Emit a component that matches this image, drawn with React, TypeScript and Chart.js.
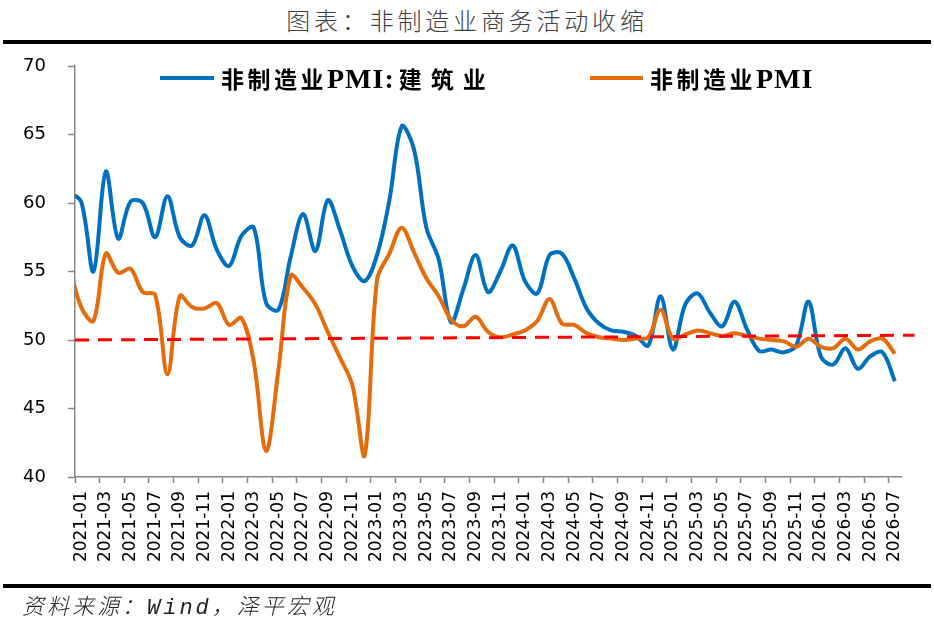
import { useEffect, useRef } from 'react';
import { Chart, registerables } from 'chart.js';

Chart.register(...registerables);

// first month (2020-12) sits left of the axis start and is only seen as the clipped line end
const MONTHS = [
  '2020-12',
  '2021-01', '2021-02', '2021-03', '2021-04', '2021-05', '2021-06', '2021-07', '2021-08', '2021-09', '2021-10', '2021-11', '2021-12',
  '2022-01', '2022-02', '2022-03', '2022-04', '2022-05', '2022-06', '2022-07', '2022-08', '2022-09', '2022-10', '2022-11', '2022-12',
  '2023-01', '2023-02', '2023-03', '2023-04', '2023-05', '2023-06', '2023-07', '2023-08', '2023-09', '2023-10', '2023-11', '2023-12',
  '2024-01', '2024-02', '2024-03', '2024-04', '2024-05', '2024-06', '2024-07', '2024-08', '2024-09', '2024-10', '2024-11', '2024-12',
  '2025-01', '2025-02', '2025-03', '2025-04', '2025-05', '2025-06', '2025-07', '2025-08', '2025-09', '2025-10', '2025-11', '2025-12',
  '2026-01', '2026-02', '2026-03', '2026-04', '2026-05', '2026-06', '2026-07',
];

// 非制造业PMI:建筑业
const CONSTRUCTION = [
  60.8,
  60.1, 55.0, 62.3, 57.4, 60.1, 60.0, 57.5, 60.5, 57.5, 56.9, 59.1, 56.6,
  55.4, 57.6, 58.2, 52.7, 52.2, 56.1, 59.2, 56.5, 60.2, 58.0, 55.4, 54.3,
  56.2, 60.2, 65.6, 63.9, 58.2, 55.9, 51.3, 53.7, 56.2, 53.5, 55.0, 56.9,
  54.3, 53.4, 56.2, 56.3, 54.5, 52.3, 51.2, 50.7, 50.6, 50.3, 49.6, 53.2,
  49.3, 52.6, 53.4, 52.0, 51.0, 52.8, 50.8, 49.2, 49.3, 49.1, 49.6, 52.8,
  48.8, 48.2, 49.4, 47.9, 48.8, 49.1, 47.0,
];

// 非制造业PMI
const NON_MFG = [
  55.6,
  52.4, 51.4, 56.3, 54.9, 55.2, 53.5, 53.3, 47.5, 53.2, 52.4, 52.3, 52.7,
  51.1, 51.6, 48.4, 41.9, 47.8, 54.7, 53.8, 52.6, 50.6, 48.7, 46.7, 41.6,
  54.4, 56.3, 58.2, 56.4, 54.5, 53.2, 51.5, 51.0, 51.7, 50.6, 50.2, 50.4,
  50.7, 51.4, 53.0, 51.2, 51.1, 50.5, 50.2, 50.1, 50.0, 50.1, 50.2, 52.2,
  50.1, 50.4, 50.7, 50.5, 50.3, 50.5, 50.3, 50.1, 50.0, 49.9, 49.5, 50.1,
  49.5, 49.4, 50.1, 49.3, 49.9, 50.1, 49.0,
];

// dashed reference line, in category widths from the left edge of the axis
const TREND_X = [0, 68.1];
const TREND_Y = [50.0, 50.35];

const Y_TICKS = [40, 45, 50, 55, 60, 65, 70];

const BLUE = '#0070C0';
const ORANGE = '#E46C0A';
const AXIS = '#868686';

const App = () => {
  const chartRef = useRef<HTMLCanvasElement | null>(null);
  const chartInstanceRef = useRef<Chart | null>(null);

  useEffect(() => {
    const ctx = chartRef.current!.getContext('2d')!;
    if (chartInstanceRef.current) chartInstanceRef.current.destroy();

    chartInstanceRef.current = new Chart(ctx, {
      type: 'line',
      data: {
        labels: MONTHS,
        datasets: [
          {
            label: 'trend',
            data: TREND_X.map((x, i) => ({ x, y: TREND_Y[i] })),
            xAxisID: 'x2',
            borderColor: '#FF0000',
            borderWidth: 3,
            borderDash: [14, 9],
            pointRadius: 0,
            tension: 0,
            clip: false,
          } as any,
          {
            label: '非制造业PMI',
            data: NON_MFG,
            borderColor: ORANGE,
            borderWidth: 4,
            pointRadius: 0,
            tension: 0.35,
          },
          {
            label: '非制造业PMI:建筑业',
            data: CONSTRUCTION,
            borderColor: BLUE,
            borderWidth: 4,
            pointRadius: 0,
            tension: 0.35,
          },
        ],
      },
      options: {
        responsive: false,
        animation: false,
        layout: { padding: { left: 10, top: 66, right: 33, bottom: 40 } },
        plugins: {
          legend: { display: false },
          tooltip: { enabled: false },
        },
        scales: {
          x: {
            type: 'category',
            min: '2021-01',
            offset: true,
            afterFit: (scale) => {
              scale.height = 108;
            },
            grid: {
              offset: true,
              drawOnChartArea: false,
              drawTicks: true,
              tickLength: 6,
              tickWidth: 1.5,
              tickColor: (c: any) =>
                c.index !== undefined && c.index % 2 === 0 ? AXIS : 'rgba(0,0,0,0)',
            },
            border: { color: AXIS, width: 1.5 },
            ticks: {
              autoSkip: false,
              minRotation: 90,
              maxRotation: 90,
              padding: 8,
              color: '#000',
              font: { family: 'DejaVu Sans', size: 17 },
              callback: function (value) {
                const label = this.getLabelForValue(value as number);
                return Number(label.slice(5)) % 2 === 1 ? label : '';
              },
            },
          },
          x2: {
            type: 'linear',
            display: false,
            min: 0,
            max: MONTHS.length - 1,
          },
          y: {
            min: Y_TICKS[0],
            max: Y_TICKS[Y_TICKS.length - 1],
            afterFit: (scale) => {
              scale.width = 65;
            },
            afterBuildTicks: (scale) => {
              scale.ticks = Y_TICKS.map((v) => ({ value: v }));
            },
            grid: {
              drawOnChartArea: false,
              drawTicks: true,
              tickLength: 7,
              tickWidth: 1.5,
              tickColor: AXIS,
            },
            border: { color: AXIS, width: 1.5 },
            ticks: {
              padding: 22,
              color: '#000',
              font: { family: 'DejaVu Sans', size: 18 },
            },
          },
        },
      },
    });

    return () => {
      if (chartInstanceRef.current) {
        chartInstanceRef.current.destroy();
        chartInstanceRef.current = null;
      }
    };
  }, []);

  const legendText = {
    position: 'absolute' as const,
    top: 64,
    lineHeight: '28px',
    fontWeight: 700,
    color: '#000',
    whiteSpace: 'nowrap' as const,
  };
  const cjk = { fontFamily: '"Noto Sans CJK SC", sans-serif', fontSize: 23, letterSpacing: '3.5px' };
  const latin = { fontFamily: '"Liberation Serif", serif', fontSize: 28, letterSpacing: '1px' };

  return (
    <div
      style={{
        position: 'absolute',
        left: 0,
        top: 0,
        width: 934,
        height: 625,
        background: '#fff',
        overflow: 'hidden',
      }}
    >
      <div
        style={{
          position: 'absolute',
          left: 0,
          top: 6,
          width: 934,
          textAlign: 'center',
          fontFamily: '"Noto Sans CJK SC", sans-serif',
          fontWeight: 300,
          fontSize: 24,
          lineHeight: '28px',
          letterSpacing: '3.8px',
          color: '#404040',
        }}
      >
        图表：非制造业商务活动收缩
      </div>
      <div style={{ position: 'absolute', left: 3, top: 40, width: 928, height: 4, background: '#000' }} />

      <canvas ref={chartRef} width={934} height={625} style={{ position: 'absolute', left: 0, top: 0 }} />

      <div style={{ position: 'absolute', left: 160, top: 76, width: 54, height: 4, background: BLUE }} />
      <div style={{ ...legendText, left: 221 }}>
        <span style={cjk}>非制造业</span>
        <span style={latin}>PMI:</span>
        <span style={{ ...cjk, letterSpacing: '9px', marginLeft: 4 }}>建筑业</span>
      </div>
      <div style={{ position: 'absolute', left: 590, top: 76, width: 53, height: 4, background: ORANGE }} />
      <div style={{ ...legendText, left: 650 }}>
        <span style={cjk}>非制造业</span>
        <span style={latin}>PMI</span>
      </div>

      <div style={{ position: 'absolute', left: 3, top: 584, width: 928, height: 4, background: '#000' }} />
      <div
        style={{
          position: 'absolute',
          left: 22,
          top: 596,
          fontFamily: '"Liberation Mono", "Noto Sans CJK SC", monospace',
          fontStyle: 'italic',
          fontWeight: 300,
          fontSize: 22,
          lineHeight: '26px',
          letterSpacing: '3px',
          color: '#222',
          whiteSpace: 'nowrap',
        }}
      >
        资料来源：Wind，泽平宏观
      </div>
    </div>
  );
};

export default App;
